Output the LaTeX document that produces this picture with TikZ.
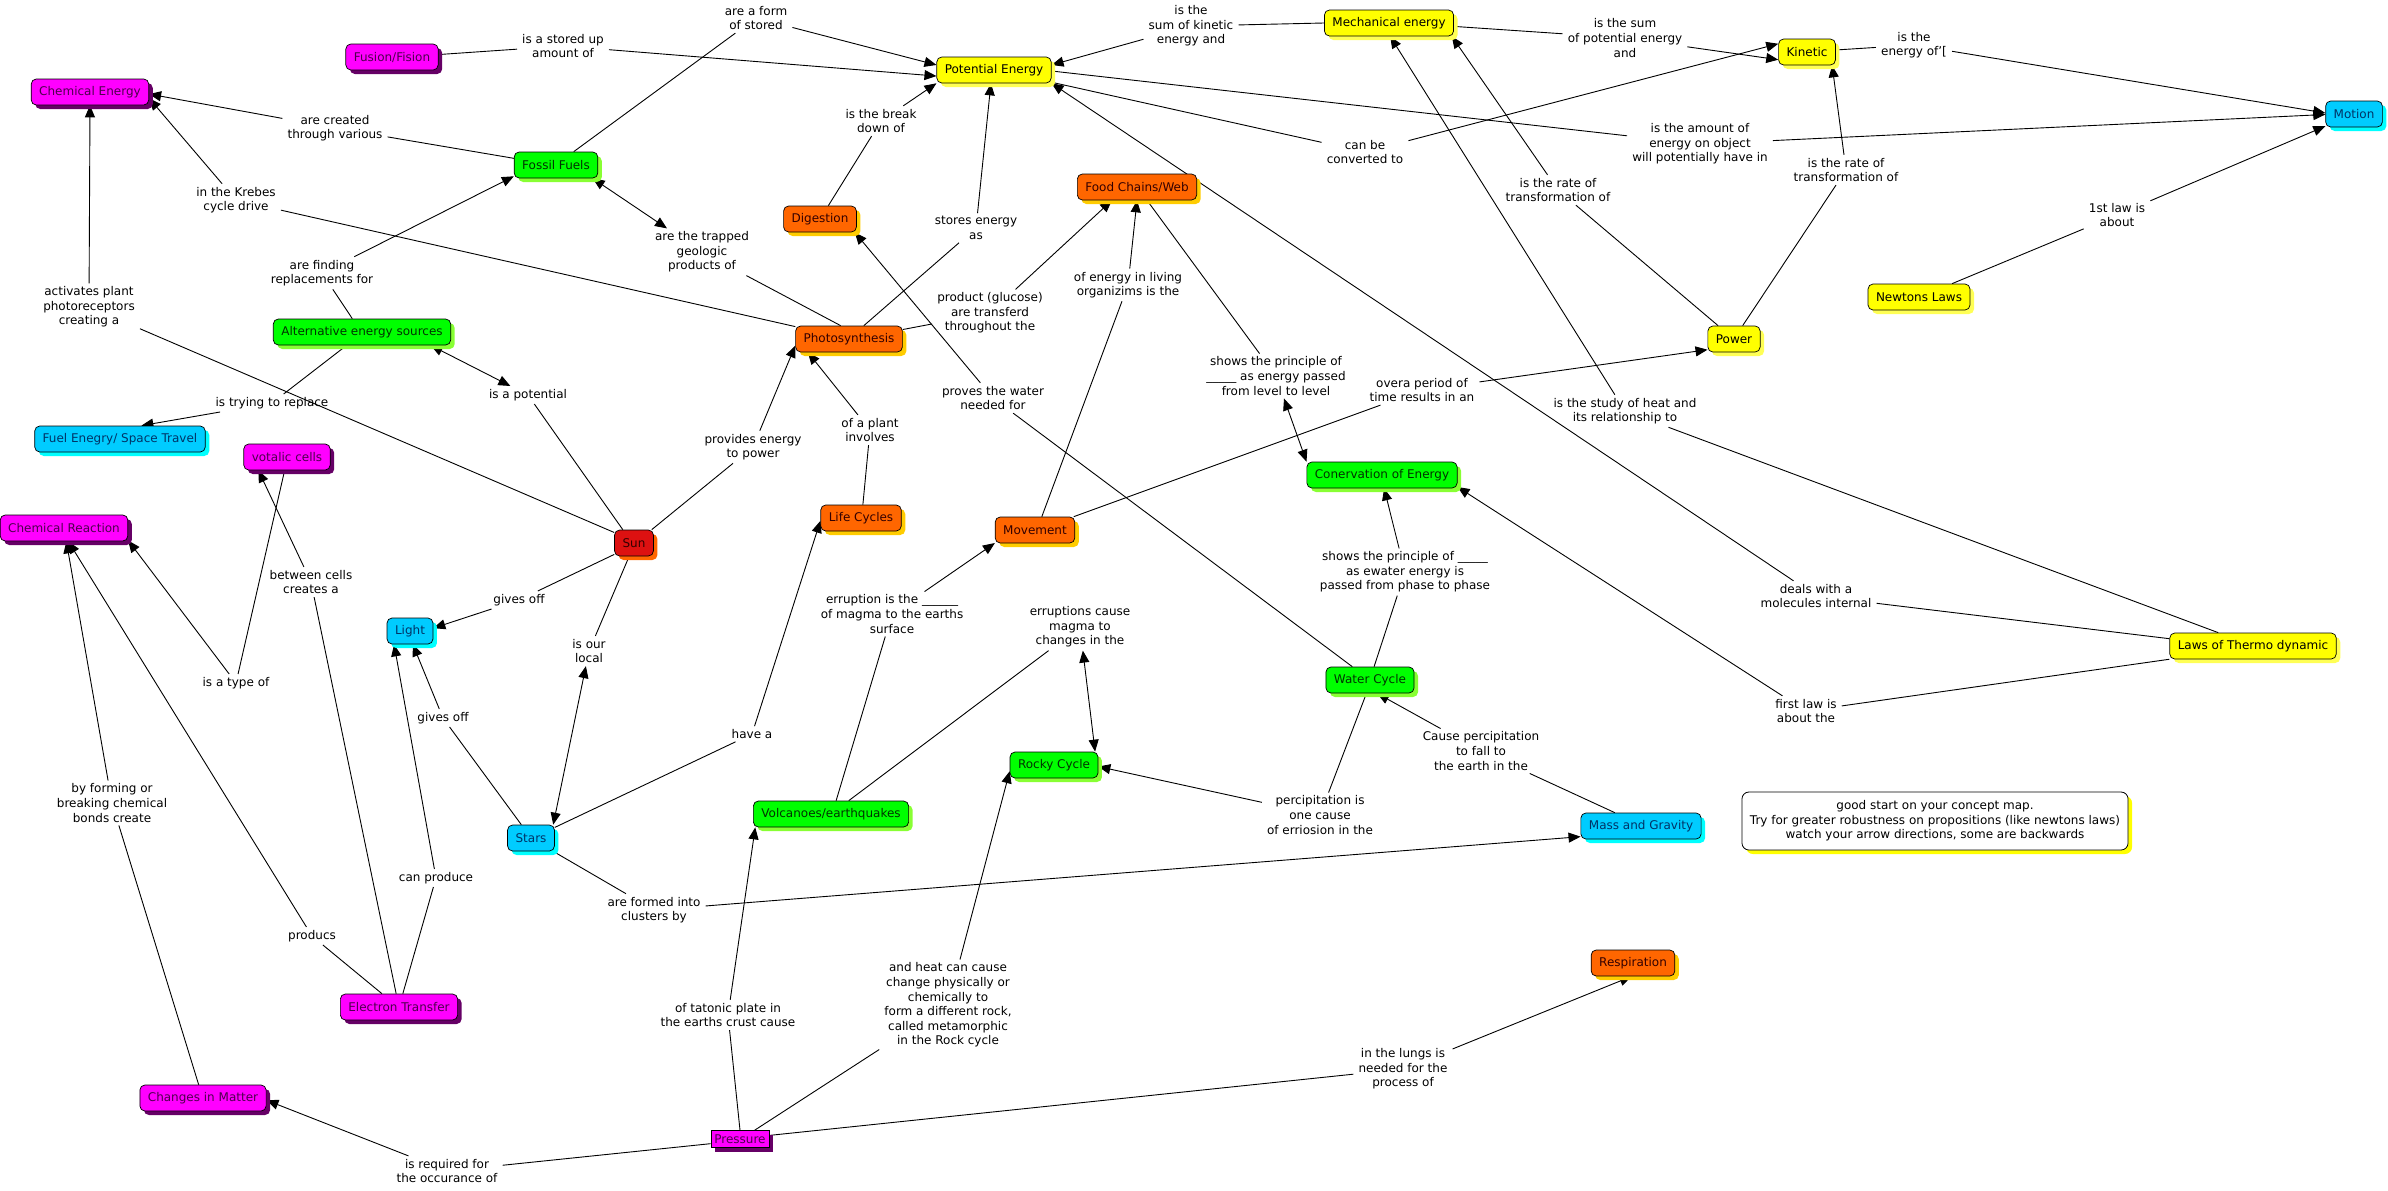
\documentclass[tikz,border=0pt]{standalone}
\usepackage{fontspec}
\setmainfont{DejaVu Sans}
\usetikzlibrary{arrows.meta,shadows}
\pgfdeclarelayer{edges}
\pgfsetlayers{edges,main}
\definecolor{magF}{HTML}{FF00FF}
\definecolor{magS}{HTML}{660066}
\definecolor{magT}{HTML}{4D004D}
\definecolor{yelF}{HTML}{FFFF00}
\definecolor{yelS}{HTML}{FFFF55}
\definecolor{grnF}{HTML}{00FF00}
\definecolor{grnS}{HTML}{88FF33}
\definecolor{grnT}{HTML}{003300}
\definecolor{orgF}{HTML}{FF6600}
\definecolor{orgS}{HTML}{FFCC00}
\definecolor{orgT}{HTML}{330000}
\definecolor{cyaF}{HTML}{00CCFF}
\definecolor{cyaS}{HTML}{00FFFF}
\definecolor{cyaT}{HTML}{003366}
\definecolor{sunF}{HTML}{DD1111}
\definecolor{sunS}{HTML}{FF6600}
\begin{document}
\begin{tikzpicture}[x=1pt,y=-1pt,
  base/.style={font=\fontsize{12}{14.6}\selectfont},
  shad/.style={drop shadow={shadow xshift=4pt, shadow yshift=-4pt, fill=#1, opacity=1}},
  concept/.style={base, draw=black, line width=0.7pt, rounded corners=5pt, minimum height=26pt, inner xsep=8pt, inner ysep=3pt},
  mag/.style={concept, fill=magF, text=magT, shad=magS},
  yel/.style={concept, fill=yelF, text=black, shad=yelS},
  grn/.style={concept, fill=grnF, text=grnT, shad=grnS},
  org/.style={concept, fill=orgF, text=orgT, shad=orgS},
  cya/.style={concept, fill=cyaF, text=cyaT, shad=cyaS},
  sunst/.style={concept, fill=sunF, text=orgT, shad=sunS},
  pres/.style={base, draw=black, line width=0.7pt, fill=magF, text=magT, shad=magS, minimum height=17pt, inner xsep=3.5pt, inner ysep=1pt},
  notest/.style={base, draw=black, line width=0.8pt, fill=white, rounded corners=7pt, align=center, inner xsep=8pt, minimum height=58pt, shad=yelF},
  lab/.style={base, align=center, inner xsep=5pt, inner ysep=3pt},
  ln/.style={draw=black, line width=0.9pt},
  arr/.style={ln, -{Triangle[length=12pt,width=10pt]}},
  darr/.style={ln, {Triangle[length=12pt,width=10pt]}-{Triangle[length=12pt,width=10pt]}}
]
\path[use as bounding box] (0,0) rectangle (2388,1191);

% concepts
\node[mag] (FF) at (392,57) {Fusion/Fision};
\node[mag] (CE) at (90,92) {Chemical Energy};
\node[grn] (FOS) at (556,165) {Fossil Fuels};
\node[yel] (PE) at (994,70) {Potential Energy};
\node[yel] (ME) at (1389,23) {Mechanical energy};
\node[yel] (KIN) at (1807,52) {Kinetic};
\node[cya] (MOT) at (2354,114) {Motion};
\node[yel] (NEW) at (1919,297) {Newtons Laws};
\node[yel] (POW) at (1734,339) {Power};
\node[org] (FCW) at (1137,187) {Food Chains/Web};
\node[org] (DIG) at (820,219) {Digestion};
\node[org] (PHO) at (849,339) {Photosynthesis};
\node[grn] (ALT) at (362,332) {Alternative energy sources};
\node[cya] (FUEL) at (120,439) {Fuel Enegry/ Space Travel};
\node[mag] (VOL) at (287,457) {votalic cells};
\node[mag] (CR) at (64,528) {Chemical Reaction};
\node[sunst] (SUN) at (634,543) {Sun};
\node[cya] (LIGHT) at (410,631) {Light};
\node[org] (LC) at (861,518) {Life Cycles};
\node[org] (MOV) at (1035,530) {Movement};
\node[grn] (CON) at (1382,475) {Conervation of Energy};
\node[grn] (WC) at (1370,680) {Water Cycle};
\node[yel] (LT) at (2253,646) {Laws of Thermo dynamic};
\node[grn] (RC) at (1054,765) {Rocky Cycle};
\node[grn] (VOLC) at (831,814) {Volcanoes/earthquakes};
\node[cya] (STARS) at (531,838) {Stars};
\node[cya] (MG) at (1641,826) {Mass and Gravity};
\node[notest] (NOTE) at (1935,821) {good start on your concept map.\\Try for greater robustness on propositions (like newtons laws)\\watch your arrow directions, some are backwards};
\node[org] (RESP) at (1633,963) {Respiration};
\node[mag] (ET) at (399,1007) {Electron Transfer};
\node[mag] (CIM) at (203,1098) {Changes in Matter};
\node[pres] (PRES) at (740,1139) {Pressure};

% linking phrases
\node[lab] (L1) at (563,46) {is a stored up\\amount of};
\node[lab] (L2) at (756,18) {are a form\\of stored};
\node[lab] (L3) at (335,128) {are created\\through various};
\node[lab] (L4) at (236,200) {in the Krebes\\cycle drive};
\node[lab] (L5) at (89,307) {activates plant\\photoreceptors\\creating a};
\node[lab] (L6) at (322,273) {are finding\\replacements for};
\node[lab] (L7) at (272,403) {is trying to replace};
\node[lab] (L8) at (528,395) {is a potential};
\node[lab] (L9) at (702,252) {are the trapped\\geologic\\products of};
\node[lab] (L10) at (881,121) {is the break\\down of};
\node[lab] (L11) at (976,228) {stores energy\\as};
\node[lab] (L12) at (990,313) {product (glucose)\\are transferd\\throughout the};
\node[lab] (L13) at (993,398) {proves the water\\needed for};
\node[lab] (L14) at (1128,285) {of energy in living\\organizims is the};
\node[lab] (L15) at (1276,376) {shows the principle of\\\_\_\_\_\_ as energy passed\\from level to level};
\node[lab] (L16) at (1191,26) {is the\\sum of kinetic\\energy and};
\node[lab] (L17) at (1625,38) {is the sum\\of potential energy\\and};
\node[lab] (L18) at (1365,152) {can be\\converted to};
\node[lab] (L20a) at (1558,190) {is the rate of\\transformation of};
\node[lab] (L20b) at (1846,170) {is the rate of\\transformation of};
\node[lab] (L21) at (1914,45) {is the\\energy of{\char"27}[};
\node[lab] (L22) at (1700,144) {is the amount of\\energy on object\\will potentially have in};
\node[lab] (L23) at (2117,215) {1st law is\\about};
\node[lab] (L24) at (1422,390) {overa period of\\time results in an};
\node[lab] (L25) at (1625,411) {is the study of heat and\\its relationship to};
\node[lab] (L26) at (1816,596) {deals with a\\molecules internal};
\node[lab] (L27) at (1806,711) {first law is\\about the};
\node[lab] (L28) at (1405,572) {shows the principle of \_\_\_\_\_\\as ewater energy is\\passed from phase to phase};
\node[lab] (L29) at (1481,751) {Cause percipitation\\to fall to\\the earth in the};
\node[lab] (L30) at (1320,815) {percipitation is\\one cause\\of erriosion in the};
\node[lab] (L31) at (1080,627) {erruptions cause\\magma to\\changes in the};
\node[lab] (L32) at (892,614) {erruption is the \_\_\_\_\_\_\\of magma to the earths\\surface};
\node[lab] (L33) at (752,734) {have a};
\node[lab] (L34) at (870,430) {of a plant\\involves};
\node[lab] (L35) at (753,447) {provides energy\\to power};
\node[lab] (L36) at (519,600) {gives off};
\node[lab] (L37) at (589,651) {is our\\local};
\node[lab] (L38) at (443,718) {gives off};
\node[lab] (L39) at (436,878) {can produce};
\node[lab] (L40) at (311,582) {between cells\\creates a};
\node[lab] (L41) at (236,683) {is a type of};
\node[lab] (L42) at (112,803) {by forming or\\breaking chemical\\bonds create};
\node[lab] (L43) at (312,936) {producs};
\node[lab] (L44) at (447,1171) {is required for\\the occurance of};
\node[lab] (L45) at (728,1015) {of tatonic plate in\\the earths crust cause};
\node[lab] (L46) at (948,1005) {and heat can cause\\change physically or\\chemically to\\form a different rock,\\called metamorphic\\in the Rock cycle};
\node[lab] (L47) at (1403,1069) {in the lungs is\\needed for the\\process of};
\node[lab] (L48) at (654,910) {are formed into\\clusters by};

\begin{pgfonlayer}{edges}
\draw[ln] (FF.3) -- (L1);
\draw[arr] (L1) -- (PE.186);
\draw[ln] (FOS.37) -- (L2);
\draw[arr] (L2) -- (PE.175);
\draw[ln] (FOS.171) -- (L3);
\draw[arr] (L3) -- (CE.-2);
\draw[ln] (PHO.167) -- (L4);
\draw[arr] (L4) -- (CE.-6);
\draw[ln] (SUN.152) -- (L5);
\draw[arr] (L5) -- (CE.south);
\draw[ln] (ALT.126) -- (L6);
\draw[arr] (L6) -- (FOS.195);
\draw[ln] (ALT.221) -- (L7);
\draw[arr] (L7) -- (FUEL.32);
\draw[darr] (ALT.-11) -- (L8);
\draw[ln] (L8) -- (SUN.130);
\draw[darr] (FOS.-20) -- (L9);
\draw[ln] (PHO.122) -- (L9);
\draw[ln] (DIG.58) -- (L10);
\draw[arr] (L10) -- (PE.193);
\draw[ln] (PHO.42) -- (L11);
\draw[arr] (L11) -- (PE.257);
\draw[ln] (PHO.10) -- (L12);
\draw[arr] (L12) -- (FCW.208);
\draw[ln] (WC.143) -- (L13);
\draw[arr] (L13) -- (DIG.-21);
\draw[ln] (MOV.63) -- (L14);
\draw[arr] (L14) -- (FCW.south);
\draw[ln] (FCW.-53) -- (L15);
\draw[darr] (L15) -- (CON.170);
\draw[ln] (ME.west) -- (L16);
\draw[arr] (L16) -- (PE.5);
\draw[ln] (ME.-3) -- (L17);
\draw[arr] (L17) -- (KIN.195);
\draw[ln] (PE.-12) -- (L18);
\draw[arr] (L18) -- (KIN.164);
\draw[ln] (POW.140) -- (L20a);
\draw[arr] (L20a) -- (ME.-12);
\draw[ln] (POW.57) -- (L20b);
\draw[arr] (L20b) -- (KIN.-28);
\draw[ln] (KIN.4) -- (L21);
\draw[arr] (L21) -- (MOT.178);
\draw[ln] (PE.-1) -- (L22);
\draw[arr] (L22) -- (MOT.181);
\draw[ln] (NEW.22) -- (L23);
\draw[arr] (L23) -- (MOT.203);
\draw[ln] (MOV.19) -- (L24);
\draw[arr] (L24) -- (POW.202);
\draw[ln] (LT.159) -- (L25);
\draw[arr] (L25) -- (ME.-85);
\draw[ln] (LT.175) -- (L26);
\draw[arr] (L26) -- (PE.-13);
\draw[ln] (LT.189) -- (L27);
\draw[arr] (L27) -- (CON.-9);
\draw[ln] (WC.73) -- (L28);
\draw[arr] (L28) -- (CON.-81);
\draw[ln] (MG.153) -- (L29);
\draw[arr] (L29) -- (WC.-62);
\draw[ln] (WC.-105) -- (L30);
\draw[arr] (L30) -- (RC.-2);
\draw[ln] (VOLC.37) -- (L31);
\draw[darr] (L31) -- (RC.18);
\draw[ln] (VOLC.69) -- (L32);
\draw[arr] (L32) -- (MOV.198);
\draw[ln] (STARS.24) -- (L33);
\draw[arr] (L33) -- (LC.184);
\draw[ln] (LC.82) -- (L34);
\draw[arr] (L34) -- (PHO.198);
\draw[ln] (SUN.37) -- (L35);
\draw[arr] (L35) -- (PHO.187);
\draw[ln] (SUN.210) -- (L36);
\draw[arr] (L36) -- (LIGHT.7);
\draw[ln] (SUN.250) -- (L37);
\draw[darr] (L37) -- (STARS.31);
\draw[ln] (STARS.126) -- (L38);
\draw[arr] (L38) -- (LIGHT.-78);
\draw[ln] (ET.74) -- (L39);
\draw[arr] (L39) -- (LIGHT.220);
\draw[ln] (ET.102) -- (L40);
\draw[arr] (L40) -- (VOL.205);
\draw[ln] (VOL.260) -- (L41);
\draw[arr] (L41) -- (CR.-11);
\draw[ln] (CIM.108) -- (L42);
\draw[arr] (L42) -- (CR.-80);
\draw[ln] (ET.142) -- (L43);
\draw[arr] (L43) -- (CR.-72);
\draw[ln] (PRES.189) -- (L44);
\draw[arr] (L44) -- (CIM.-2);
\draw[ln] (PRES.north) -- (L45);
\draw[arr] (L45) -- (VOLC.190);
\draw[ln] (PRES.31) -- (L46);
\draw[arr] (L46) -- (RC.188);
\draw[ln] (PRES.7) -- (L47);
\draw[arr] (L47) -- (RESP.264);
\draw[ln] (STARS.-31) -- (L48);
\draw[arr] (L48) -- (MG.190);
\end{pgfonlayer}
\end{tikzpicture}
\end{document}
